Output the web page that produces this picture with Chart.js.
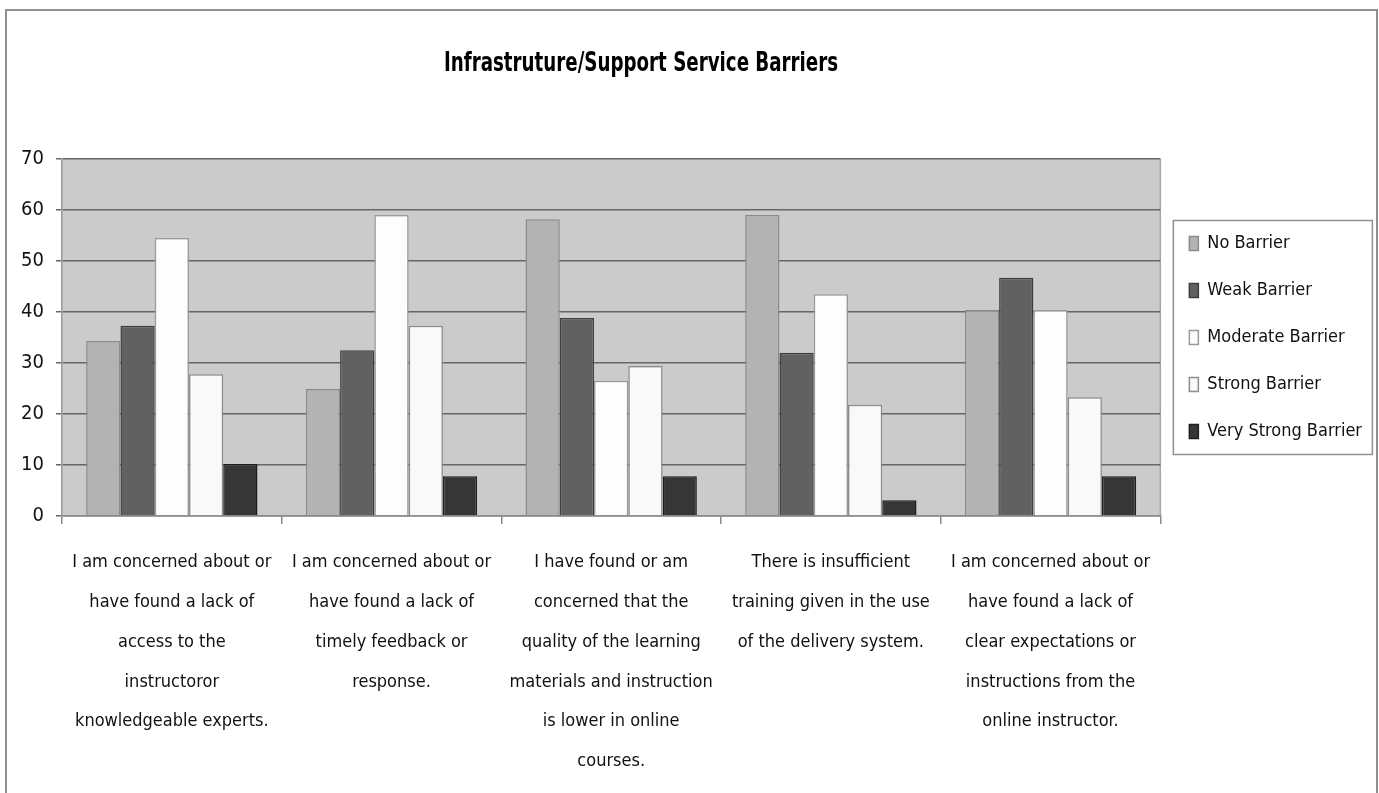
<!DOCTYPE html>
<html>
<head>
<meta charset="utf-8">
<title>Infrastruture/Support Service Barriers</title>
<script src="https://cdn.jsdelivr.net/npm/chart.js@4.4.1/dist/chart.umd.min.js"></script>
<style>
    html, body { margin: 0; padding: 0; background: #ffffff; overflow: hidden; }
    #frame {
        position: absolute; left: 5px; top: 9px; width: 1369px; height: 800px;
        border: 2px solid #8f8f8f;
    }
    #wrap { position: absolute; left: 0; top: 0; width: 1379px; height: 793px; }
</style>
</head>
<body>
<div id="frame"></div>
<div id="wrap"><canvas id="barChart"></canvas></div>
<script>
// =============================================================================
// DATA
// =============================================================================

const chartTitle = 'Infrastruture/Support Service Barriers';

const categories = [
    ['I am concerned about or', 'have found a lack of', 'access to the', 'instructoror', 'knowledgeable experts.'],
    ['I am concerned about or', 'have found a lack of', 'timely feedback or', 'response.'],
    ['I have found or am', 'concerned that the', 'quality of the learning', 'materials and instruction', 'is lower in online', 'courses.'],
    ['There is insufficient', 'training given in the use', 'of the delivery system.'],
    ['I am concerned about or', 'have found a lack of', 'clear expectations or', 'instructions from the', 'online instructor.']
];

const seriesNames = ['No Barrier', 'Weak Barrier', 'Moderate Barrier', 'Strong Barrier', 'Very Strong Barrier'];

const noBarrier = [34.3, 24.9, 58.2, 59.0, 40.4];
const weakBarrier = [37.3, 32.5, 38.8, 32.0, 46.7];
const moderateBarrier = [54.5, 59.0, 26.5, 43.5, 40.4];
const strongBarrier = [27.8, 37.3, 29.4, 21.8, 23.3];
const veryStrongBarrier = [10.2, 7.8, 7.8, 3.1, 7.8];

const yTicks = [0, 10, 20, 30, 40, 50, 60, 70];

// =============================================================================
// STYLE
// =============================================================================

const narrow = '"Liberation Sans Narrow", "Arial Narrow", "DejaVu Sans Condensed", sans-serif';
const fills = ['#b3b3b3', '#616161', '#fdfdfd', '#f9f9f9', '#363636'];
const edges = ['#8a8a8a', '#3d3d3d', '#9a9a9a', '#8c8c8c', '#1e1e1e'];

// grey plot area, right edge line and the custom title
const plotBackground = {
    id: 'plotBackground',
    beforeDraw(chart) {
        const { ctx, chartArea: a } = chart;
        ctx.save();
        ctx.fillStyle = '#cbcbcb';
        ctx.fillRect(a.left, a.top, a.right - a.left, a.bottom - a.top);
        ctx.strokeStyle = '#a8a8a8';
        ctx.lineWidth = 1.5;
        ctx.beginPath();
        ctx.moveTo(a.right, a.top);
        ctx.lineTo(a.right, a.bottom);
        ctx.stroke();
        ctx.restore();
    },
    afterDraw(chart) {
        const ctx = chart.ctx;
        ctx.save();
        // title, squeezed a bit to look like the narrow bold face
        ctx.fillStyle = '#000000';
        ctx.font = 'bold 26px ' + narrow;
        ctx.textAlign = 'center';
        ctx.textBaseline = 'middle';
        ctx.translate(641, 64);
        ctx.scale(0.78, 1);
        ctx.fillText(chartTitle, 0, 0);
        ctx.restore();

        // border round the legend
        const boxes = chart.legend.legendHitBoxes;
        if (boxes && boxes.length) {
            const first = boxes[0];
            const last = boxes[boxes.length - 1];
            ctx.save();
            ctx.strokeStyle = '#8f8f8f';
            ctx.lineWidth = 1.5;
            ctx.strokeRect(first.left - 16, first.top - 14, 199, (last.top + last.height) - first.top + 28);
            ctx.restore();
        }
    }
};

// =============================================================================
// CHART
// =============================================================================

const rawSeries = [noBarrier, weakBarrier, moderateBarrier, strongBarrier, veryStrongBarrier];

const datasets = seriesNames.map((name, i) => ({
    label: name,
    data: rawSeries[i],
    backgroundColor: fills[i],
    borderColor: edges[i],
    borderWidth: 1.5,
    borderSkipped: 'bottom',
    barPercentage: 1.0,
    categoryPercentage: 0.78
}));

window.addEventListener('DOMContentLoaded', () => {
    const ctx = document.getElementById('barChart').getContext('2d');
    new Chart(ctx, {
        type: 'bar',
        data: { labels: categories, datasets: datasets },
        options: {
            responsive: true,
            maintainAspectRatio: false,
            animation: false,
            layout: { padding: { top: 159, right: 7, bottom: 0, left: 0 } },
            plugins: {
                title: { display: false },
                tooltip: { enabled: false },
                legend: {
                    position: 'right',
                    fullSize: false,
                    labels: {
                        color: '#111111',
                        font: { family: narrow, size: 18 },
                        boxWidth: 9,
                        boxHeight: 14,
                        padding: 29
                    }
                }
            },
            scales: {
                x: {
                    grid: {
                        display: true,
                        drawOnChartArea: false,
                        color: '#8a8a8a',
                        tickLength: 8,
                        lineWidth: 1.5
                    },
                    border: { color: '#8a8a8a', width: 1.5 },
                    ticks: {
                        color: '#111111',
                        font: { family: narrow, size: 18, lineHeight: 2.22 },
                        maxRotation: 0,
                        autoSkip: false,
                        padding: 18
                    },
                    afterFit(scale) { scale.height = 277; }
                },
                y: {
                    min: 0,
                    max: 70,
                    afterBuildTicks(scale) { scale.ticks = yTicks.map(v => ({ value: v })); },
                    grid: {
                        color: '#666666',
                        lineWidth: 1.5,
                        tickLength: 6
                    },
                    border: { color: '#9a9a9a', width: 1.5 },
                    ticks: {
                        color: '#111111',
                        font: { family: narrow, size: 20 },
                        padding: 12
                    },
                    afterFit(scale) { scale.width = 62; }
                }
            }
        },
        plugins: [plotBackground]
    });
});
</script>
</body>
</html>
